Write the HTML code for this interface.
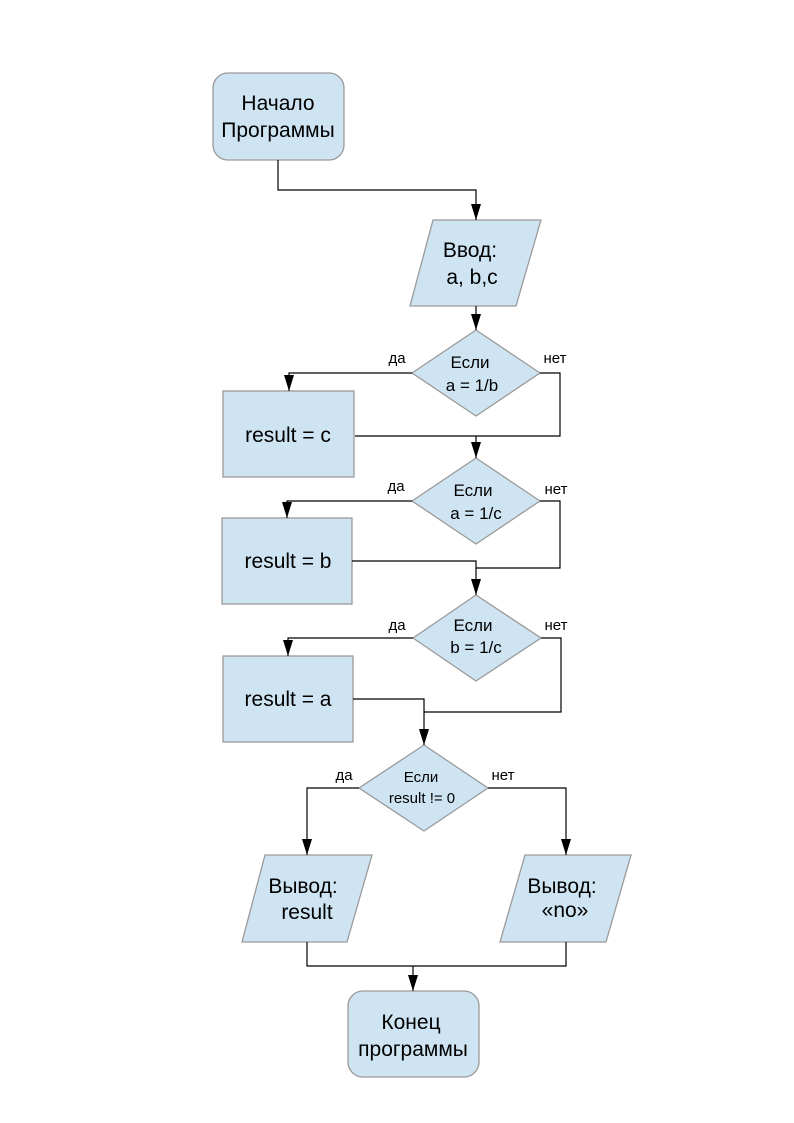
<!DOCTYPE html>
<html><head><meta charset="utf-8"><style>body{margin:0;background:#fff}svg{display:block}</style></head><body>
<svg width="794" height="1123" viewBox="0 0 794 1123" xmlns="http://www.w3.org/2000/svg" font-family="Liberation Sans, sans-serif">
<defs><marker id="a" markerWidth="16" markerHeight="10" refX="16" refY="5" orient="auto" markerUnits="userSpaceOnUse" viewBox="0 0 16 10"><path d="M0,0 L16,5 L0,10 z" fill="#000"/></marker></defs>
<g fill="#cfe4f2" stroke="#9a9a9a" stroke-width="1.3">
<rect x="213" y="73" width="131" height="87" rx="15"/>
<polygon points="433,220 541,220 516,306 410,306"/>
<polygon points="476,330 540,373 476,416 412,373"/>
<rect x="223" y="391" width="131" height="86"/>
<polygon points="476,458 540,501 476,544 412,501"/>
<rect x="222" y="518" width="130" height="86"/>
<polygon points="476,595 541,638 476,681 413,638"/>
<rect x="223" y="656" width="130" height="86"/>
<polygon points="424,745 488,788 424,831 359,788"/>
<polygon points="265,855 372,855 347,942 242,942"/>
<polygon points="525,855 631,855 606,942 500,942"/>
<rect x="348" y="991" width="131" height="86" rx="15"/>
</g>
<g fill="none" stroke="#000" stroke-width="1.2">
<polyline points="278,160 278,190 476,190 476,220" marker-end="url(#a)"/>
<polyline points="476,306 476,330" marker-end="url(#a)"/>
<polyline points="412,373 289,373 289,391" marker-end="url(#a)"/>
<polyline points="540,373 560,373 560,436 355,436"/>
<polyline points="476,436 476,458" marker-end="url(#a)"/>
<polyline points="412,501 287,501 287,518" marker-end="url(#a)"/>
<polyline points="540,501 560,501 560,568 476,568"/>
<polyline points="352,561 476,561 476,595" marker-end="url(#a)"/>
<polyline points="413,638 288,638 288,656" marker-end="url(#a)"/>
<polyline points="541,638 561,638 561,712 424,712"/>
<polyline points="353,699 424,699 424,745" marker-end="url(#a)"/>
<polyline points="359,788 307,788 307,855" marker-end="url(#a)"/>
<polyline points="488,788 566,788 566,855" marker-end="url(#a)"/>
<polyline points="307,942 307,966 566,966 566,942"/>
<polyline points="413,966 413,991" marker-end="url(#a)"/>
</g>
<g fill="#000" text-anchor="middle" font-size="21">
<text x="278" y="110">Начало</text><text x="278" y="137">Программы</text>
<text x="470" y="257">Ввод:</text><text x="472" y="284">a, b,c</text>
<text x="288" y="442">result = c</text>
<text x="288" y="568">result = b</text>
<text x="288" y="706">result = a</text>
<text x="303" y="893">Вывод:</text><text x="307" y="919">result</text>
<text x="562" y="893">Вывод:</text><text x="565" y="917">«no»</text>
<text x="411" y="1029">Конец</text><text x="413" y="1056">программы</text>
</g>
<g fill="#000" text-anchor="middle" font-size="17">
<text x="470" y="368">Если</text><text x="472" y="391">a = 1/b</text>
<text x="473" y="496">Если</text><text x="476" y="519">a = 1/c</text>
<text x="473" y="631">Если</text><text x="476" y="653">b = 1/c</text>
</g>
<g fill="#000" text-anchor="middle" font-size="15">
<text x="421" y="782">Если</text><text x="422" y="803">result != 0</text>
</g>
<g fill="#000" text-anchor="middle" font-size="15">
<text x="397" y="363">да</text><text x="555" y="363">нет</text>
<text x="396" y="491">да</text><text x="556" y="494">нет</text>
<text x="397" y="630">да</text><text x="556" y="630">нет</text>
<text x="344" y="780">да</text><text x="503" y="780">нет</text>
</g>
</svg>
</body></html>
